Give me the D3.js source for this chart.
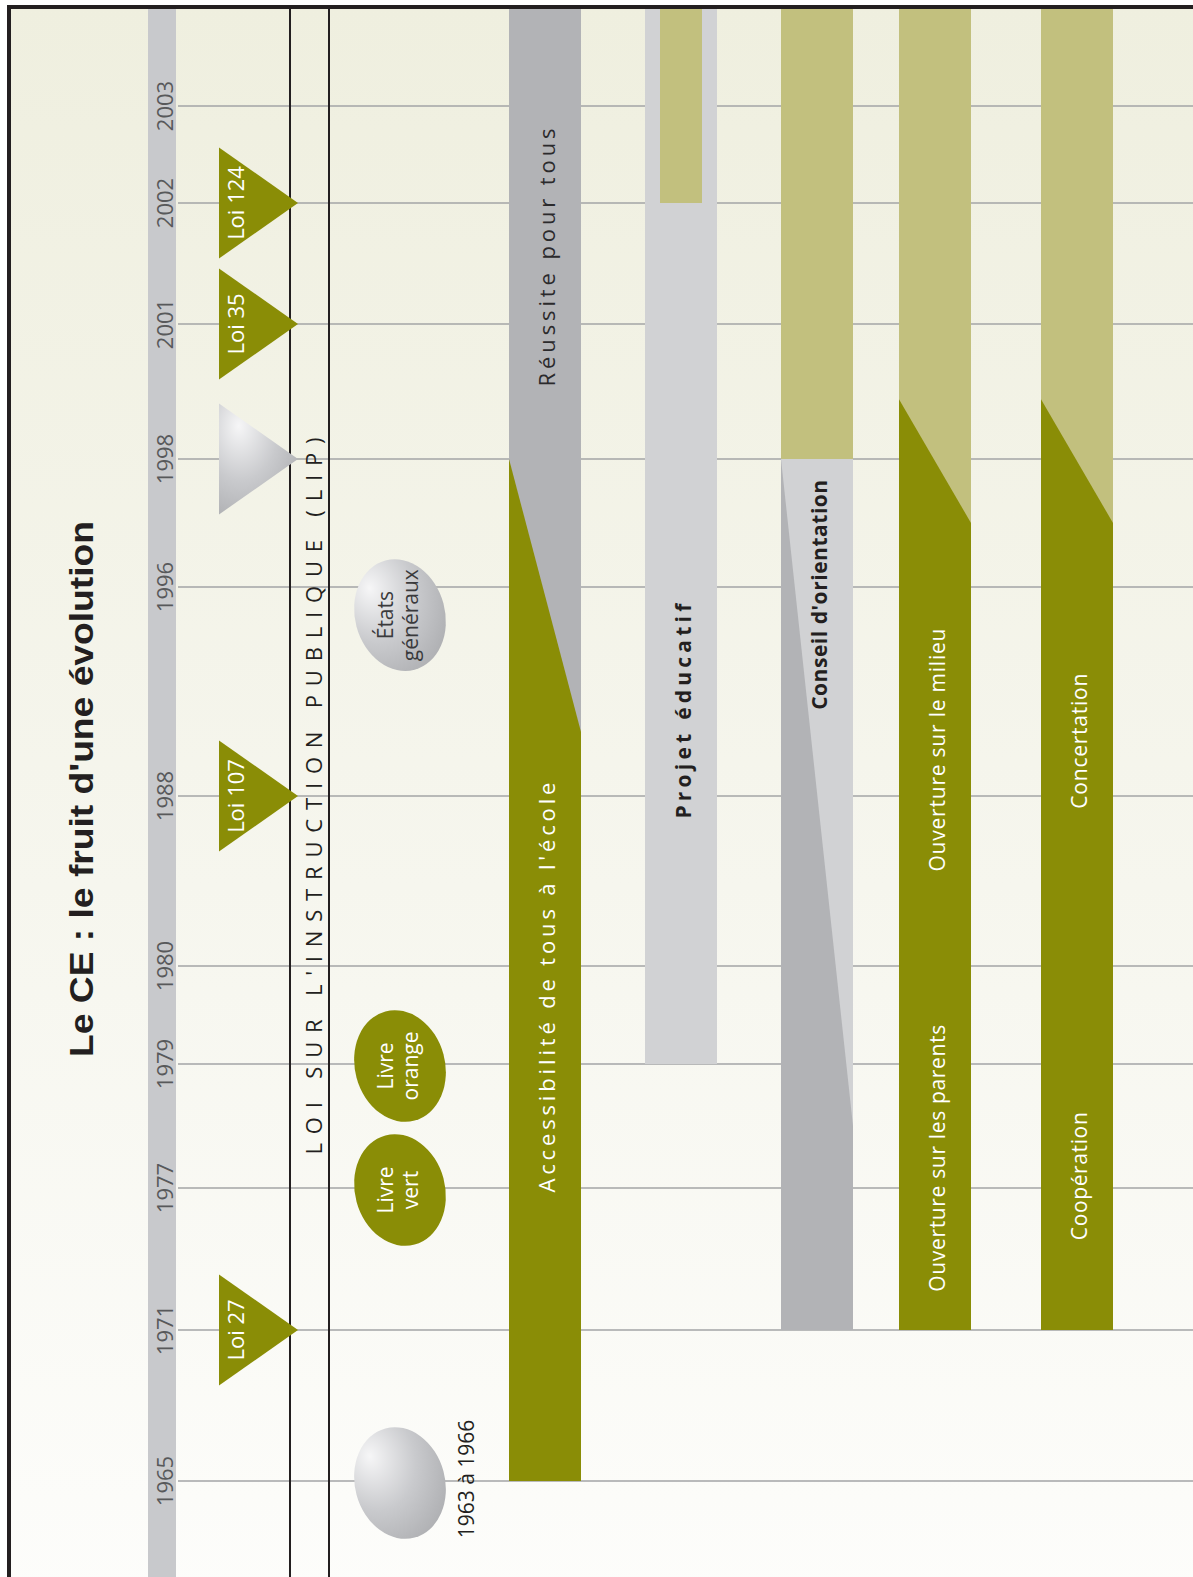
<!DOCTYPE html>
<html>
<head>
<meta charset="utf-8">
<script src="https://cdn.jsdelivr.net/npm/d3@7"></script>
<style>
  body { margin: 0; background: #fff; }
  svg { display: block; }
</style>
</head>
<body>
<svg width="1193" height="1577"></svg>
<script>
// years on the time axis (bottom -> top)
const tickYears = [1965, 1971, 1977, 1979, 1980, 1988, 1996, 1998, 2001, 2002, 2003];
const topYear = 2004;

// laws (triangles)
const lawLabels = ['Loi 27', 'Loi 107', '', 'Loi 35', 'Loi 124'];
const lawYears = [1971, 1988, 1998, 2001, 2002];
const lawKinds = ['olive', 'olive', 'grey', 'olive', 'olive'];

// events (ovals)
const ovalLines = [[], ['Livre', 'vert'], ['Livre', 'orange'], ['États', 'généraux']];
const ovalYears = [1965, 1977, 1979, 1995];
const ovalKinds = ['grey', 'olive', 'olive', 'grey'];
const ovalNote = '1963 à 1966';

// columns and their layers
const columnNames = ['acces', 'projet', 'conseil', 'ouverture', 'concert'];
const layerCol = ['acces', 'acces', 'projet', 'projet', 'conseil', 'conseil', 'conseil', 'ouverture', 'ouverture', 'concert', 'concert'];
const layerKind = ['grey', 'olive', 'pale', 'inner', 'paleOlive', 'pale', 'grey', 'paleOlive', 'olive', 'paleOlive', 'olive'];
const layerLow = [[1965, 1965], [1965, 1965], [1979, 1979], [2002, 2002], [1998, 1998], [1971, 1971], [1971, 1971], [1971, 1971], [1971, 1971], [1971, 1971], [1971, 1971]];
const layerHigh = [[topYear, topYear], [1998, 1990.45], [topYear, topYear], [topYear, topYear], [topYear, topYear], [1998, 1998], [1998, 1978], [topYear, topYear], [1999.33, 1997], [topYear, topYear], [1999.33, 1997]];

// column labels
const labelText = ["Accessibilité de tous à l'école", 'Réussite pour tous', 'Projet éducatif', "Conseil d'orientation",
  'Ouverture sur le milieu', 'Ouverture sur les parents', 'Concertation', 'Coopération'];
const labelCol = ['acces', 'acces', 'projet', 'conseil', 'ouverture', 'ouverture', 'concert', 'concert'];
const labelYear = [1979.78, 2001.55, 1991.25, 1995.7, 1989.76, 1977.48, 1990.1, 1977.19];
const labelKind = ['spacedLight', 'spacedDark', 'spacedBold', 'bold', 'light', 'light', 'light', 'light'];

const title = "Le CE : le fruit d'une évolution";
const lipText = "LOI SUR L'INSTRUCTION PUBLIQUE (LIP)";

// layout
const svg = d3.select('svg');
const width = +svg.attr('width');
const height = +svg.attr('height');
const font = "'Open Sans', 'Noto Sans', sans-serif";

const y = d3.scaleLinear()
  .domain(tickYears)
  .range([1481, 1330, 1188, 1064, 966, 796, 587, 459, 324, 203, 106]);
const x = d3.scaleOrdinal().domain(columnNames).range([509, 645, 781, 899, 1041]);
const colW = 72;

const color = d3.scaleOrdinal()
  .domain(['olive', 'paleOlive', 'grey', 'pale', 'inner'])
  .range(['#8a8d06', '#c2c07e', '#b2b3b6', '#d1d2d4', '#c2c07e']);

const defs = svg.append('defs');
const bg = defs.append('linearGradient').attr('id', 'bg').attr('x1', 0).attr('y1', 0).attr('x2', 0).attr('y2', 1);
bg.append('stop').attr('offset', '0%').attr('stop-color', '#efefdf');
bg.append('stop').attr('offset', '55%').attr('stop-color', '#f6f6ee');
bg.append('stop').attr('offset', '100%').attr('stop-color', '#fdfdfb');

const shine = defs.append('radialGradient').attr('id', 'shine')
  .attr('cx', 0.3).attr('cy', 0.25).attr('r', 0.85).attr('fx', 0.25).attr('fy', 0.2);
shine.append('stop').attr('offset', '0%').attr('stop-color', '#f6f6f7');
shine.append('stop').attr('offset', '55%').attr('stop-color', '#c9cacd');
shine.append('stop').attr('offset', '100%').attr('stop-color', '#aeafb2');

// frame + background
svg.append('rect').attr('x', 9).attr('y', 7).attr('width', width + 20).attr('height', height + 20)
  .attr('fill', 'url(#bg)').attr('stroke', '#231f20').attr('stroke-width', 4);

// grid
svg.append('g').selectAll('line').data(tickYears).join('line')
  .attr('x1', 178).attr('x2', width)
  .attr('y1', d => y(d)).attr('y2', d => y(d))
  .attr('stroke', '#a3a4a6').attr('stroke-width', 1.5);

// year band
svg.append('rect').attr('x', 148).attr('y', 9).attr('width', 28).attr('height', height)
  .attr('fill', '#c8c9cc');
svg.append('g').selectAll('text').data(tickYears).join('text')
  .attr('transform', d => `translate(173, ${y(d)}) rotate(-90)`)
  .attr('text-anchor', 'middle')
  .attr('font-family', font).attr('font-size', 22).attr('fill', '#58595b')
  .text(d => d);

// LIP band
svg.append('g').selectAll('line').data([290, 329]).join('line')
  .attr('x1', d => d).attr('x2', d => d).attr('y1', 9).attr('y2', height)
  .attr('stroke', '#231f20').attr('stroke-width', 2);
svg.append('text')
  .attr('transform', `translate(322, ${y(1988)}) rotate(-90)`)
  .attr('text-anchor', 'middle')
  .attr('font-family', font).attr('font-size', 22).attr('fill', '#231f20')
  .attr('textLength', 717).attr('lengthAdjust', 'spacing')
  .text(lipText);

// laws
const laws = svg.append('g').selectAll('g').data(lawYears).join('g')
  .attr('transform', d => `translate(0, ${y(d)})`);
laws.append('path')
  .attr('d', 'M219,-55.5 L298,0 L219,55.5 Z')
  .attr('fill', (d, i) => lawKinds[i] === 'grey' ? 'url(#shine)' : color('olive'));
laws.append('text')
  .attr('transform', 'translate(244, 0) rotate(-90)')
  .attr('text-anchor', 'middle')
  .attr('font-family', font).attr('font-size', 22).attr('fill', '#fff')
  .text((d, i) => lawLabels[i]);

// ovals
const ovals = svg.append('g').selectAll('g').data(ovalYears).join('g')
  .attr('transform', d => `translate(400, ${y(d) + 2})`);
ovals.append('ellipse')
  .attr('rx', 45).attr('ry', 56.5)
  .attr('transform', 'rotate(-15)')
  .attr('fill', (d, i) => ovalKinds[i] === 'grey' ? 'url(#shine)' : color('olive'));
ovals.each(function (d, i) {
  const lines = ovalLines[i];
  d3.select(this).selectAll('text').data(lines).join('text')
    .attr('transform', (t, j) => `translate(${lines.length > 1 ? -7 + j * 25 : 0}, 0) rotate(-90)`)
    .attr('text-anchor', 'middle')
    .attr('font-family', font).attr('font-size', 21)
    .attr('fill', ovalKinds[i] === 'grey' ? '#3a3a3c' : '#fff')
    .text(t => t);
});
svg.append('text')
  .attr('transform', `translate(474, ${y(1965) - 2}) rotate(-90)`)
  .attr('text-anchor', 'middle')
  .attr('font-family', font).attr('font-size', 21).attr('fill', '#231f20')
  .text(ovalNote);

// columns
svg.append('g').selectAll('path').data(layerCol).join('path')
  .attr('d', (c, i) => {
    const inset = layerKind[i] === 'inner' ? 15 : 0;
    const x0 = x(c) + inset, x1 = x(c) + colW - inset;
    const [lo0, lo1] = layerLow[i], [hi0, hi1] = layerHigh[i];
    return `M${x0},${y(lo0)} L${x1},${y(lo1)} L${x1},${y(hi1)} L${x0},${y(hi0)} Z`;
  })
  .attr('fill', (c, i) => color(layerKind[i]));

// column labels
const labelStyle = {
  spacedLight: { size: 22, weight: 400, fill: '#fff' },
  spacedDark: { size: 22, weight: 400, fill: '#2b2a2c' },
  spacedBold: { size: 21, weight: 700, fill: '#231f20' },
  bold: { size: 21, weight: 700, fill: '#231f20' },
  light: { size: 21, weight: 400, fill: '#fff' }
};
const labelSpan = [410, 258, 215, 230, 243, 267, 135, 128];
svg.append('g').selectAll('text').data(labelText).join('text')
  .attr('transform', (t, i) => `translate(${x(labelCol[i]) + colW / 2 + 10}, ${y(labelYear[i])}) rotate(-90)`)
  .attr('text-anchor', 'middle')
  .attr('font-family', font)
  .attr('font-size', (t, i) => labelStyle[labelKind[i]].size)
  .attr('font-weight', (t, i) => labelStyle[labelKind[i]].weight)
  .attr('fill', (t, i) => labelStyle[labelKind[i]].fill)
  .attr('textLength', (t, i) => labelSpan[i]).attr('lengthAdjust', 'spacing')
  .text(t => t);

// title
svg.append('text')
  .attr('transform', 'translate(93, 789) rotate(-90)')
  .attr('text-anchor', 'middle')
  .attr('font-family', "'Liberation Sans', Arial, sans-serif")
  .attr('font-size', 33).attr('font-weight', 700).attr('fill', '#231f20')
  .attr('textLength', 536).attr('lengthAdjust', 'spacingAndGlyphs')
  .text(title);
</script>
</body>
</html>
